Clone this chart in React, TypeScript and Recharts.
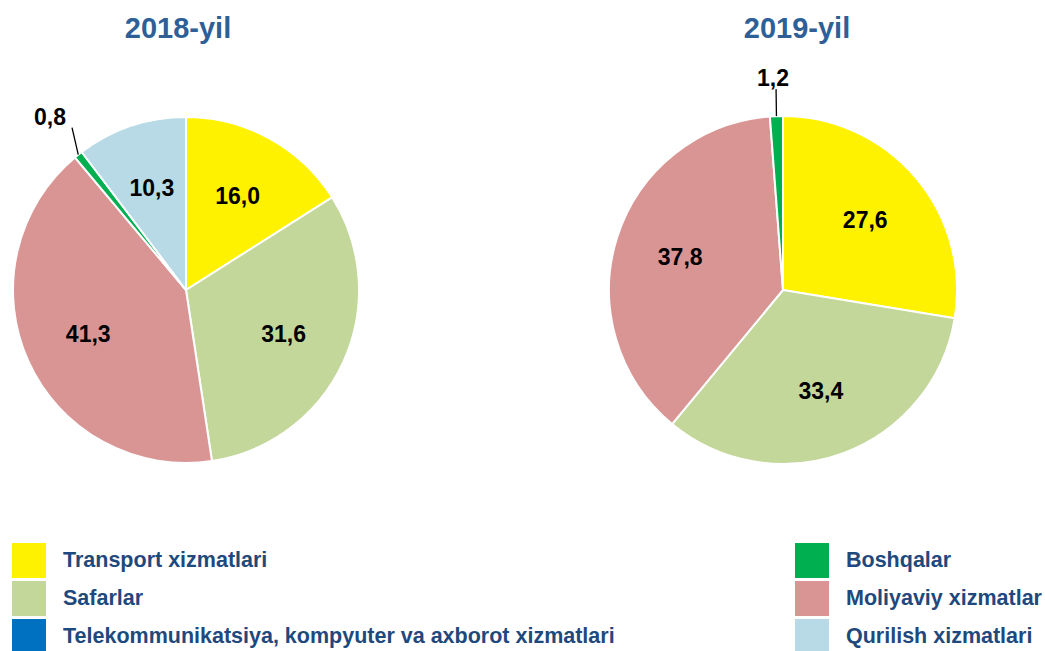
import { PieChart, Pie, Cell } from "recharts";

const categories = [
  "Transport xizmatlari",
  "Safarlar",
  "Telekommunikatsiya, kompyuter va axborot xizmatlari",
  "Moliyaviy xizmatlar",
  "Boshqalar",
  "Qurilish xizmatlari",
];
const colors = ["#FFF200", "#C4D79B", "#0070C0", "#D99594", "#00B050", "#B7DAE6"];
const values2018 = [16.0, 31.6, 0, 41.3, 0.8, 10.3];
const values2019 = [27.6, 33.4, 0, 37.8, 1.2, 0];
const titles = ["2018-yil", "2019-yil"];

// legend: left column then right column
const legendLeft = [0, 1, 2];
const legendRight = [4, 3, 5];

const RAD = Math.PI / 180;

function toRows(values: number[]) {
  return values
    .map((v, i) => ({ name: categories[i], value: v, color: colors[i] }))
    .filter((d) => d.value > 0);
}

const fmt = (v: number) => v.toFixed(1).replace(".", ",");

function renderLabel(props: any) {
  const { cx, cy, midAngle, outerRadius, value } = props;
  const sin = Math.sin(-midAngle * RAD);
  const cos = Math.cos(-midAngle * RAD);
  if (value < 2) {
    const ex = cx + outerRadius * cos;
    const ey = cy + outerRadius * sin;
    const lx = ex + cos * 10;
    const ly = ey - 27;
    const left = cos < -0.3;
    return (
      <g>
        <line x1={ex} y1={ey} x2={lx} y2={ly} stroke="#000" strokeWidth={1.3} />
        <text
          x={left ? lx - 6 : lx - 3}
          y={ly - 11}
          textAnchor={left ? "end" : "middle"}
          dominantBaseline="central"
          fontSize={23}
          fontWeight="bold"
          fill="#000"
        >
          {fmt(value)}
        </text>
      </g>
    );
  }
  const r = outerRadius * 0.62;
  return (
    <text
      x={cx + r * cos}
      y={cy + r * sin}
      textAnchor="middle"
      dominantBaseline="central"
      fontSize={23}
      fontWeight="bold"
      fill="#000"
    >
      {fmt(value)}
    </text>
  );
}

function LegendItem({ idx }: { idx: number }) {
  return (
    <div style={{ display: "flex", alignItems: "center", height: 38 }}>
      <div style={{ width: 34, height: 35, background: colors[idx], marginRight: 17 }} />
      <span style={{ color: "#1F497D", fontWeight: "bold", fontSize: 21.5 }}>{categories[idx]}</span>
    </div>
  );
}

export default function App() {
  const rows2018 = toRows(values2018);
  const rows2019 = toRows(values2019);
  return (
    <div
      style={{
        position: "absolute",
        left: 0,
        top: 0,
        width: 1045,
        height: 651,
        background: "#fff",
        fontFamily: "'Liberation Sans', Arial, sans-serif",
      }}
    >
      <div style={{ position: "absolute", left: 78, top: 12, width: 200, textAlign: "center", fontSize: 29, fontWeight: "bold", color: "#2E5F96" }}>
        {titles[0]}
      </div>
      <div style={{ position: "absolute", left: 697, top: 12, width: 200, textAlign: "center", fontSize: 29, fontWeight: "bold", color: "#2E5F96" }}>
        {titles[1]}
      </div>
      <PieChart width={1045} height={520} margin={{ top: 0, right: 0, bottom: 0, left: 0 }}>
        <Pie
          data={rows2018}
          dataKey="value"
          cx={186}
          cy={290}
          outerRadius={173}
          startAngle={90}
          endAngle={-270}
          stroke="#fff"
          strokeWidth={2}
          label={renderLabel}
          labelLine={false}
          isAnimationActive={false}
        >
          {rows2018.map((d, i) => (
            <Cell key={i} fill={d.color} />
          ))}
        </Pie>
        <Pie
          data={rows2019}
          dataKey="value"
          cx={783}
          cy={290}
          outerRadius={174}
          startAngle={90}
          endAngle={-270}
          stroke="#fff"
          strokeWidth={2}
          label={renderLabel}
          labelLine={false}
          isAnimationActive={false}
        >
          {rows2019.map((d, i) => (
            <Cell key={i} fill={d.color} />
          ))}
        </Pie>
      </PieChart>
      <div style={{ position: "absolute", left: 12, top: 541 }}>
        {legendLeft.map((i) => (
          <LegendItem key={i} idx={i} />
        ))}
      </div>
      <div style={{ position: "absolute", left: 795, top: 541 }}>
        {legendRight.map((i) => (
          <LegendItem key={i} idx={i} />
        ))}
      </div>
    </div>
  );
}
